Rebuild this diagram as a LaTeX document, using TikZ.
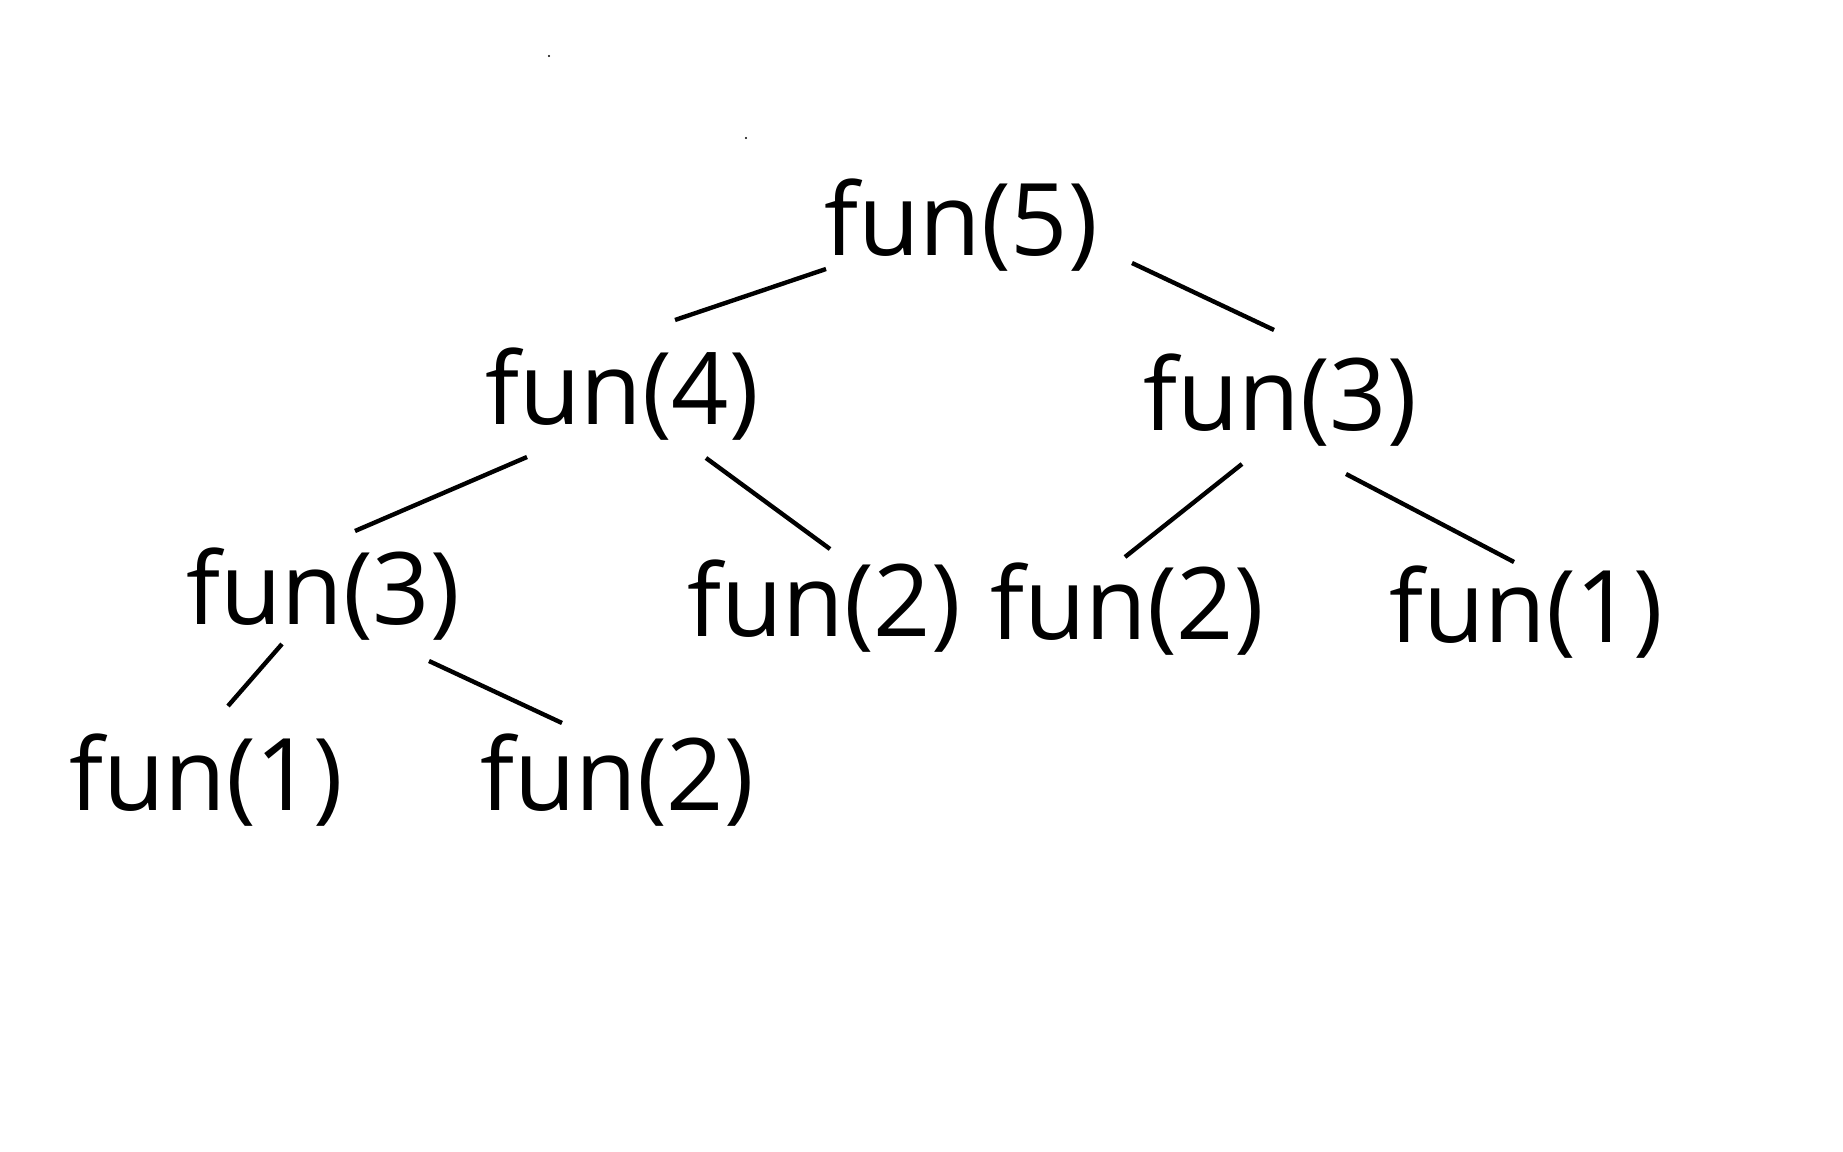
\documentclass[tikz,border=0pt]{standalone}
\usepackage{fontspec}
\setmainfont{Open Sans}
\begin{document}
\begin{tikzpicture}[x=0.01cm,y=-0.01cm,
  lbl/.style={inner sep=0pt,anchor=base,font=\fontsize{28.5}{32}\selectfont},
  edge/.style={line width=1.25pt,black},
  speck/.style={fill=black,inner sep=0pt,minimum size=0.6pt,circle}]
\useasboundingbox[fill=white] (0,0) rectangle (1843,1152);
\node[lbl] (n5) at (961,256) {fun(5)};
\node[lbl] (n4) at (622,424) {fun(4)};
\node[lbl] (n3r) at (1280,430) {fun(3)};
\node[lbl] (n3l) at (323,624) {fun(3)};
\node[lbl] (n2m) at (824,636) {fun(2)};
\node[lbl] (n2r) at (1127,639) {fun(2)};
\node[lbl] (n1r) at (1526,642) {fun(1)};
\node[lbl] (n1l) at (206,810) {fun(1)};
\node[lbl] (n2b) at (617,810) {fun(2)};
\node[speck] (d1) at (549,56) {};
\node[speck] (d2) at (746,138) {};
\draw[edge] ([shift={(-135,13)}]n5.base) -- ([shift={(53,-104)}]n4.base);
\draw[edge] ([shift={(171,7)}]n5.base) -- ([shift={(-6,-100)}]n3r.base);
\draw[edge] ([shift={(-95,33)}]n4.base) -- ([shift={(32,-93)}]n3l.base);
\draw[edge] ([shift={(84,34)}]n4.base) -- ([shift={(6,-87)}]n2m.base);
\draw[edge] ([shift={(-38,34)}]n3r.base) -- ([shift={(-2,-82)}]n2r.base);
\draw[edge] ([shift={(66,44)}]n3r.base) -- ([shift={(-12,-80)}]n1r.base);
\draw[edge] ([shift={(-41,20)}]n3l.base) -- ([shift={(22,-104)}]n1l.base);
\draw[edge] ([shift={(106,37)}]n3l.base) -- ([shift={(-55,-87)}]n2b.base);
\end{tikzpicture}
\end{document}
